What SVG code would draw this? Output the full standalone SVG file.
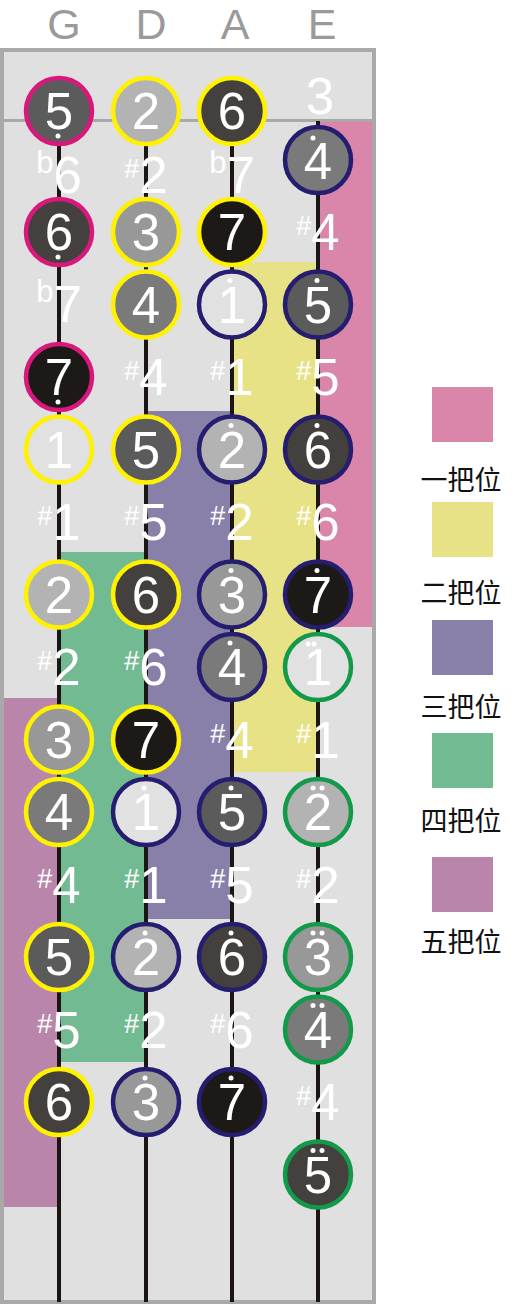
<svg xmlns="http://www.w3.org/2000/svg" width="531" height="1306" viewBox="0 0 531 1306">
<defs>
<style>
.board{fill:#e0e0e0;stroke:#a9a9a9;stroke-width:4}
.str{stroke:#1b1613;stroke-width:4}
.n{stroke-width:4.5}
.f1{fill:#e1e1e1}.f2{fill:#b3b3b3}.f3{fill:#989898}.f4{fill:#7a7a7a}.f5{fill:#5b5b5b}.f6{fill:#43403e}.f7{fill:#1d1916}
.sp{stroke:#d8197b}.sy{stroke:#fff200}.sb{stroke:#251d6f}.sg{stroke:#12994a}
.d{font-family:"Liberation Sans",Arial,sans-serif;font-size:51px;fill:#fff;text-anchor:middle}
.acc{font-size:27px}
.accb{font-size:31px}
.dot{fill:#fff}
.top{font-family:"Liberation Sans",Arial,sans-serif;font-size:43px;fill:#9a9a9a;text-anchor:middle}
.lg{font-family:"Noto Sans CJK SC","Noto Sans CJK JP",sans-serif;font-size:27px;fill:#111;text-anchor:middle}
</style>
</defs>

<g id="header">
<text class="top" x="64" y="39">G</text>
<text class="top" x="151" y="39">D</text>
<text class="top" x="235" y="39">A</text>
<text class="top" x="322" y="39">E</text>
</g>

<rect class="board" x="2" y="50" width="372" height="1252"/>

<g id="positions">
<rect x="318" y="122" width="54" height="505" fill="#da85aa"/>
<rect x="232" y="262" width="86" height="510" fill="#e8e286"/>
<rect x="146" y="411" width="86" height="508" fill="#8880a8"/>
<rect x="59" y="552" width="87" height="510" fill="#72ba92"/>
<rect x="4" y="698" width="55" height="509" fill="#b985aa"/>
</g>

<line x1="4" y1="120.5" x2="372" y2="120.5" stroke="#a9a9a9" stroke-width="3"/>

<g id="connectors">
<line class="str" x1="59" y1="121" x2="59" y2="1302"/>
<line class="str" x1="146" y1="121" x2="146" y2="1302"/>
<line class="str" x1="232" y1="121" x2="232" y2="1302"/>
<line class="str" x1="318" y1="121" x2="318" y2="1302"/>
</g>

<!-- G string -->
<g id="G0"><circle class="n f5 sp" cx="59" cy="111" r="33"/><text class="d" x="59" y="129">5</text><circle class="dot" cx="58" cy="136" r="2.5"/></g>
<g id="G1"><text class="d" x="59" y="193"><tspan class="accb" dy="-20">b</tspan><tspan dy="20">6</tspan></text></g>
<g id="G2"><circle class="n f6 sp" cx="59" cy="232" r="33"/><text class="d" x="59" y="250">6</text><circle class="dot" cx="58" cy="257" r="2.5"/></g>
<g id="G3"><text class="d" x="59" y="322"><tspan class="accb" dy="-20">b</tspan><tspan dy="20">7</tspan></text></g>
<g id="G4"><circle class="n f7 sp" cx="59" cy="377" r="33"/><text class="d" x="59" y="395">7</text><circle class="dot" cx="58" cy="402" r="2.5"/></g>
<g id="G5"><circle class="n f1 sy" cx="59" cy="449.5" r="33"/><text class="d" x="59" y="467.5">1</text></g>
<g id="G6"><text class="d" x="59" y="540"><tspan class="acc" dy="-15">#</tspan><tspan dy="15">1</tspan></text></g>
<g id="G7"><circle class="n f2 sy" cx="59" cy="594.5" r="33"/><text class="d" x="59" y="612.5">2</text></g>
<g id="G8"><text class="d" x="59" y="685"><tspan class="acc" dy="-15">#</tspan><tspan dy="15">2</tspan></text></g>
<g id="G9"><circle class="n f3 sy" cx="59" cy="739.5" r="33"/><text class="d" x="59" y="757.5">3</text></g>
<g id="G10"><circle class="n f4 sy" cx="59" cy="812" r="33"/><text class="d" x="59" y="830">4</text></g>
<g id="G11"><text class="d" x="59" y="902.5"><tspan class="acc" dy="-15">#</tspan><tspan dy="15">4</tspan></text></g>
<g id="G12"><circle class="n f5 sy" cx="59" cy="957" r="33"/><text class="d" x="59" y="975">5</text></g>
<g id="G13"><text class="d" x="59" y="1047.5"><tspan class="acc" dy="-15">#</tspan><tspan dy="15">5</tspan></text></g>
<g id="G14"><circle class="n f6 sy" cx="59" cy="1102" r="33"/><text class="d" x="59" y="1120">6</text></g>

<!-- D string -->
<g id="D0"><circle class="n f2 sy" cx="146" cy="111" r="33"/><text class="d" x="146" y="129">2</text></g>
<g id="D1"><text class="d" x="146" y="193"><tspan class="acc" dy="-15">#</tspan><tspan dy="15">2</tspan></text></g>
<g id="D2"><circle class="n f3 sy" cx="146" cy="232" r="33"/><text class="d" x="146" y="250">3</text></g>
<g id="D3"><circle class="n f4 sy" cx="146" cy="304.5" r="33"/><text class="d" x="146" y="322.5">4</text></g>
<g id="D4"><text class="d" x="146" y="395"><tspan class="acc" dy="-15">#</tspan><tspan dy="15">4</tspan></text></g>
<g id="D5"><circle class="n f5 sy" cx="146" cy="449.5" r="33"/><text class="d" x="146" y="467.5">5</text></g>
<g id="D6"><text class="d" x="146" y="540"><tspan class="acc" dy="-15">#</tspan><tspan dy="15">5</tspan></text></g>
<g id="D7"><circle class="n f6 sy" cx="146" cy="594.5" r="33"/><text class="d" x="146" y="612.5">6</text></g>
<g id="D8"><text class="d" x="146" y="685"><tspan class="acc" dy="-15">#</tspan><tspan dy="15">6</tspan></text></g>
<g id="D9"><circle class="n f7 sy" cx="146" cy="739.5" r="33"/><text class="d" x="146" y="757.5">7</text></g>
<g id="D10"><circle class="n f1 sb" cx="146" cy="812" r="33"/><text class="d" x="146" y="830">1</text><circle class="dot" cx="144" cy="788" r="2.5"/></g>
<g id="D11"><text class="d" x="146" y="902.5"><tspan class="acc" dy="-15">#</tspan><tspan dy="15">1</tspan></text></g>
<g id="D12"><circle class="n f2 sb" cx="146" cy="957" r="33"/><text class="d" x="146" y="975">2</text><circle class="dot" cx="145" cy="933" r="2.5"/></g>
<g id="D13"><text class="d" x="146" y="1047.5"><tspan class="acc" dy="-15">#</tspan><tspan dy="15">2</tspan></text></g>
<g id="D14"><circle class="n f3 sb" cx="146" cy="1102" r="33"/><text class="d" x="146" y="1120">3</text><circle class="dot" cx="145" cy="1078" r="2.5"/></g>

<!-- A string -->
<g id="A0"><circle class="n f6 sy" cx="232" cy="111" r="33"/><text class="d" x="232" y="129">6</text></g>
<g id="A1"><text class="d" x="232" y="193"><tspan class="accb" dy="-20">b</tspan><tspan dy="20">7</tspan></text></g>
<g id="A2"><circle class="n f7 sy" cx="232" cy="232" r="33"/><text class="d" x="232" y="250">7</text></g>
<g id="A3"><circle class="n f1 sb" cx="232" cy="304.5" r="33"/><text class="d" x="232" y="322.5">1</text><circle class="dot" cx="230" cy="280.5" r="2.5"/></g>
<g id="A4"><text class="d" x="232" y="395"><tspan class="acc" dy="-15">#</tspan><tspan dy="15">1</tspan></text></g>
<g id="A5"><circle class="n f2 sb" cx="232" cy="449.5" r="33"/><text class="d" x="232" y="467.5">2</text><circle class="dot" cx="231" cy="425.5" r="2.5"/></g>
<g id="A6"><text class="d" x="232" y="540"><tspan class="acc" dy="-15">#</tspan><tspan dy="15">2</tspan></text></g>
<g id="A7"><circle class="n f3 sb" cx="232" cy="594.5" r="33"/><text class="d" x="232" y="612.5">3</text><circle class="dot" cx="231" cy="570.5" r="2.5"/></g>
<g id="A8"><circle class="n f4 sb" cx="232" cy="667" r="33"/><text class="d" x="232" y="685">4</text><circle class="dot" cx="230" cy="643" r="2.5"/></g>
<g id="A9"><text class="d" x="232" y="757.5"><tspan class="acc" dy="-15">#</tspan><tspan dy="15">4</tspan></text></g>
<g id="A10"><circle class="n f5 sb" cx="232" cy="812" r="33"/><text class="d" x="232" y="830">5</text><circle class="dot" cx="231" cy="788" r="2.5"/></g>
<g id="A11"><text class="d" x="232" y="902.5"><tspan class="acc" dy="-15">#</tspan><tspan dy="15">5</tspan></text></g>
<g id="A12"><circle class="n f6 sb" cx="232" cy="957" r="33"/><text class="d" x="232" y="975">6</text><circle class="dot" cx="231" cy="933" r="2.5"/></g>
<g id="A13"><text class="d" x="232" y="1047.5"><tspan class="acc" dy="-15">#</tspan><tspan dy="15">6</tspan></text></g>
<g id="A14"><circle class="n f7 sb" cx="232" cy="1102" r="33"/><text class="d" x="232" y="1120">7</text><circle class="dot" cx="231" cy="1078" r="2.5"/></g>

<!-- E string -->
<g id="E0"><text class="d" x="320" y="114">3</text></g>
<g id="E1"><circle class="n f4 sb" cx="318" cy="160" r="33"/><text class="d" x="318" y="179">4</text><circle class="dot" cx="313" cy="138" r="2.5"/></g>
<g id="E2"><text class="d" x="318" y="250"><tspan class="acc" dy="-15">#</tspan><tspan dy="15">4</tspan></text></g>
<g id="E3"><circle class="n f5 sb" cx="318" cy="304.5" r="33"/><text class="d" x="318" y="322.5">5</text><circle class="dot" cx="317" cy="280.5" r="2.5"/></g>
<g id="E4"><text class="d" x="318" y="395"><tspan class="acc" dy="-15">#</tspan><tspan dy="15">5</tspan></text></g>
<g id="E5"><circle class="n f6 sb" cx="318" cy="449.5" r="33"/><text class="d" x="318" y="467.5">6</text><circle class="dot" cx="317" cy="425.5" r="2.5"/></g>
<g id="E6"><text class="d" x="318" y="540"><tspan class="acc" dy="-15">#</tspan><tspan dy="15">6</tspan></text></g>
<g id="E7"><circle class="n f7 sb" cx="318" cy="594.5" r="33"/><text class="d" x="318" y="612.5">7</text><circle class="dot" cx="317" cy="570.5" r="2.5"/></g>
<g id="E8"><circle class="n f1 sg" cx="318" cy="667" r="33"/><text class="d" x="318" y="685">1</text><circle class="dot" cx="308" cy="644" r="2.5"/><circle class="dot" cx="314" cy="644" r="2.5"/></g>
<g id="E9"><text class="d" x="318" y="757.5"><tspan class="acc" dy="-15">#</tspan><tspan dy="15">1</tspan></text></g>
<g id="E10"><circle class="n f2 sg" cx="318" cy="812" r="33"/><text class="d" x="318" y="830">2</text><circle class="dot" cx="313" cy="788" r="2.5"/><circle class="dot" cx="322" cy="788" r="2.5"/></g>
<g id="E11"><text class="d" x="318" y="902.5"><tspan class="acc" dy="-15">#</tspan><tspan dy="15">2</tspan></text></g>
<g id="E12"><circle class="n f3 sg" cx="318" cy="957" r="33"/><text class="d" x="318" y="975">3</text><circle class="dot" cx="313" cy="933" r="2.5"/><circle class="dot" cx="322" cy="933" r="2.5"/></g>
<g id="E13"><circle class="n f4 sg" cx="318" cy="1029.5" r="33"/><text class="d" x="318" y="1047.5">4</text><circle class="dot" cx="313" cy="1005.5" r="2.5"/><circle class="dot" cx="322" cy="1005.5" r="2.5"/></g>
<g id="E14"><text class="d" x="318" y="1120"><tspan class="acc" dy="-15">#</tspan><tspan dy="15">4</tspan></text></g>
<g id="E15"><circle class="n f6 sg" cx="318" cy="1174.5" r="33"/><text class="d" x="318" y="1192.5">5</text><circle class="dot" cx="313" cy="1150.5" r="2.5"/><circle class="dot" cx="322" cy="1150.5" r="2.5"/></g>

<!-- legend -->
<g id="legend1"><rect x="432" y="387" width="61" height="55" fill="#da85aa"/><text class="lg" x="461" y="490">一把位</text></g>
<g id="legend2"><rect x="432" y="502" width="61" height="55" fill="#e8e286"/><text class="lg" x="461" y="603">二把位</text></g>
<g id="legend3"><rect x="432" y="620" width="61" height="55" fill="#8880a8"/><text class="lg" x="461" y="717">三把位</text></g>
<g id="legend4"><rect x="432" y="733" width="61" height="55" fill="#72ba92"/><text class="lg" x="461" y="831">四把位</text></g>
<g id="legend5"><rect x="432" y="857" width="61" height="55" fill="#b985aa"/><text class="lg" x="461" y="952">五把位</text></g>
</svg>
